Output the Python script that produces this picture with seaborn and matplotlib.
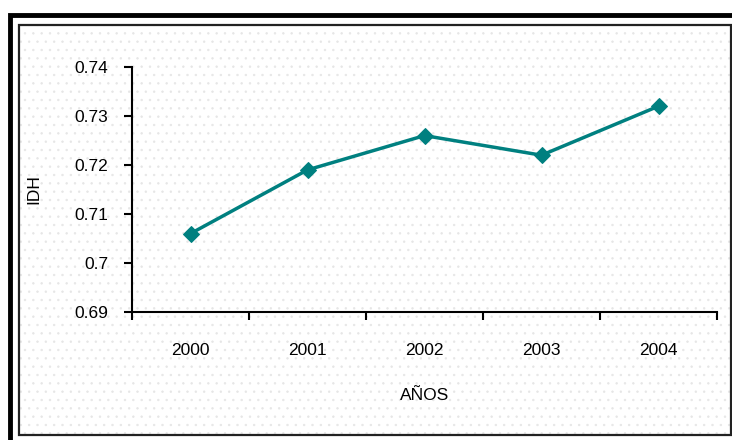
import seaborn as sns
import matplotlib.pyplot as plt
import pandas as pd
from matplotlib.patches import Rectangle

years = ['2000', '2001', '2002', '2003', '2004']
idh = [0.706, 0.719, 0.726, 0.722, 0.732]
y_ticks = [0.69, 0.70, 0.71, 0.72, 0.73, 0.74]
y_labels = ['0.69', '0.7', '0.71', '0.72', '0.73', '0.74']

df = pd.DataFrame({'pos': range(len(years)), 'IDH': idh})

sns.set_style('white')
plt.rcParams['font.family'] = ['Liberation Sans Narrow', 'Liberation Sans', 'DejaVu Sans']
plt.rcParams['hatch.linewidth'] = 0.5
plt.rcParams['text.color'] = 'black'
plt.rcParams['axes.labelcolor'] = 'black'
plt.rcParams['xtick.color'] = 'black'
plt.rcParams['ytick.color'] = 'black'

W, H = 732, 440
fig = plt.figure(figsize=(W / 100, H / 100), dpi=100)

# dotted chart-area background and frames (Excel look)
fig.patches.append(Rectangle((19 / W, 1 - 435 / H), 712 / W, 410 / H,
                             transform=fig.transFigure, facecolor='white',
                             edgecolor='#e6e6e6', hatch='..', linewidth=0, zorder=-5))
fig.patches.append(Rectangle((19 / W, 1 - 435 / H), 712 / W, 410 / H,
                             transform=fig.transFigure, fill=False,
                             edgecolor='#222222', linewidth=1.6, zorder=5))
fig.patches.append(Rectangle((10 / W, -0.05), 760 / W, 1.05 - 15 / H,
                             transform=fig.transFigure, fill=False,
                             edgecolor='black', linewidth=3.5, zorder=5))

ax = fig.add_axes([132 / W, 1 - 312 / H, 585 / W, 245 / H])
ax.patch.set_alpha(0)

sns.lineplot(data=df, x='pos', y='IDH', ax=ax, color='#008080', linewidth=2.5,
             marker='D', markersize=8, markeredgecolor='#008080')

ax.set_xlim(-0.5, len(years) - 0.5)
ax.set_ylim(y_ticks[0], y_ticks[-1])
ax.set_yticks(y_ticks)
ax.set_yticklabels(y_labels, fontsize=12.5)
ax.set_xticks([i - 0.5 for i in range(len(years) + 1)])
ax.set_xticklabels([])
ax.set_xticks(range(len(years)), minor=True)
ax.set_xticklabels(years, minor=True, fontsize=12.5)
ax.tick_params(axis='x', which='major', bottom=True, direction='out', length=6, width=1.5)
ax.tick_params(axis='x', which='minor', bottom=False, length=0, pad=22)
ax.tick_params(axis='y', left=True, direction='out', length=6, width=1.5, pad=11)

sns.despine(ax=ax)
for s in ['left', 'bottom']:
    ax.spines[s].set_color('black')
    ax.spines[s].set_linewidth(1.5)

ax.set_xlabel('AÑOS', fontsize=12.5, labelpad=22)
ax.set_ylabel('IDH', fontsize=12.5, labelpad=24)

fig.savefig('out.png', dpi=100)
